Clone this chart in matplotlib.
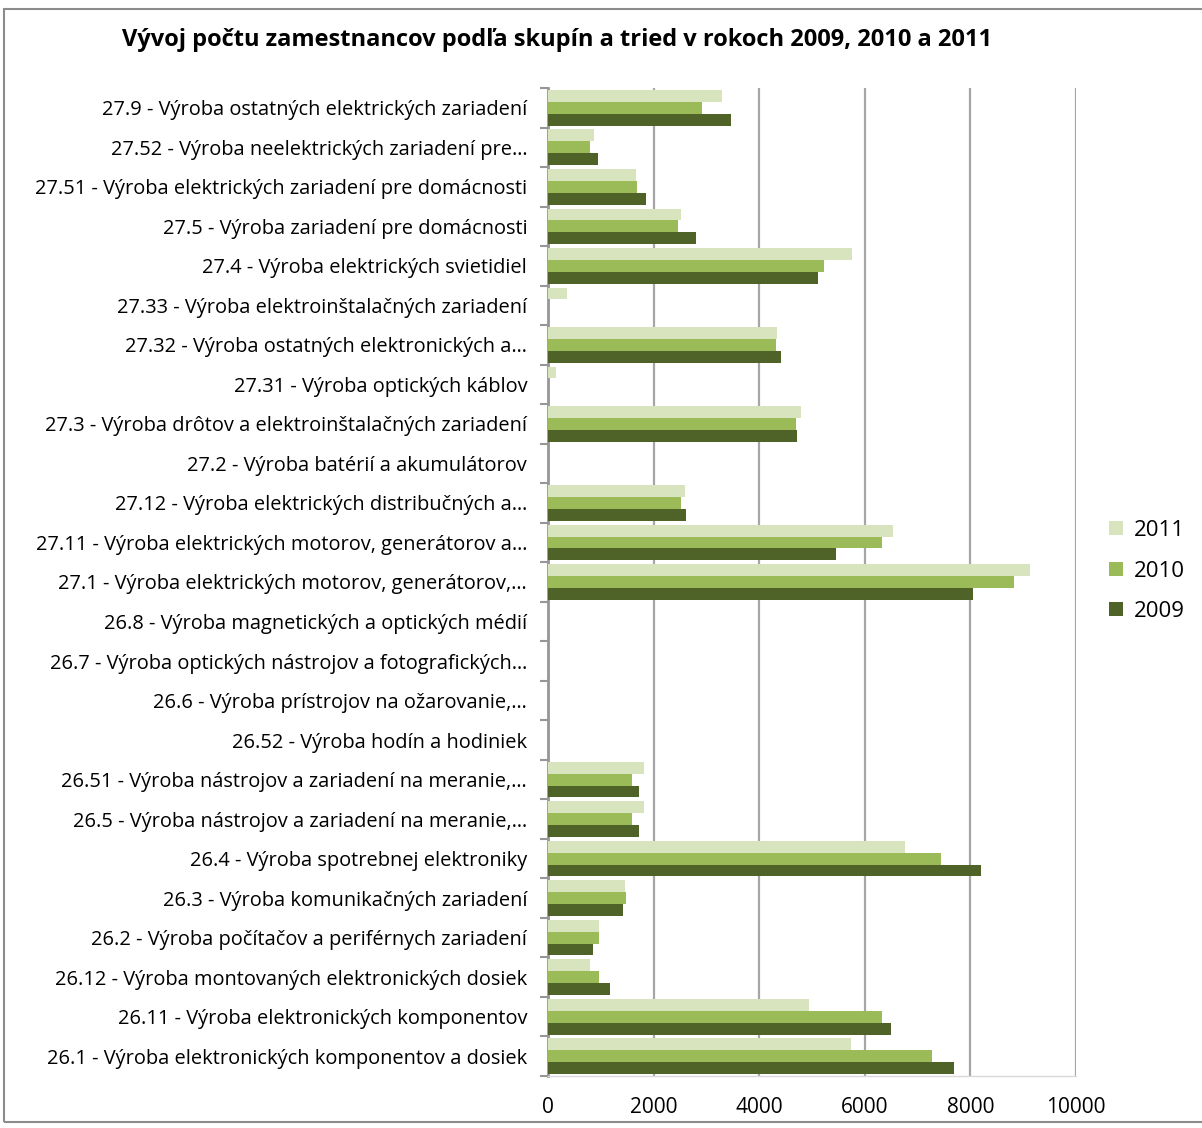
import matplotlib.pyplot as plt
import matplotlib.patches as mpatches
import numpy as np

plt.rcParams['font.family'] = ['Open Sans', 'DejaVu Sans']

# categories from top to bottom, as shown in the chart
categories = [
    "27.9 - Výroba ostatných elektrických zariadení",
    "27.52 - Výroba neelektrických zariadení pre…",
    "27.51 - Výroba elektrických zariadení pre domácnosti",
    "27.5 - Výroba zariadení pre domácnosti",
    "27.4 - Výroba elektrických svietidiel",
    "27.33 - Výroba elektroinštalačných zariadení",
    "27.32 - Výroba ostatných elektronických a…",
    "27.31 - Výroba optických káblov",
    "27.3 - Výroba drôtov a elektroinštalačných zariadení",
    "27.2 - Výroba batérií a akumulátorov",
    "27.12 - Výroba elektrických distribučných a…",
    "27.11 - Výroba elektrických motorov, generátorov a…",
    "27.1 - Výroba elektrických motorov, generátorov,…",
    "26.8 - Výroba magnetických a optických médií",
    "26.7 - Výroba optických nástrojov a fotografických…",
    "26.6 - Výroba prístrojov na ožarovanie,…",
    "26.52 - Výroba hodín a hodiniek",
    "26.51 - Výroba nástrojov a zariadení na meranie,…",
    "26.5 - Výroba nástrojov a zariadení na meranie,…",
    "26.4 - Výroba spotrebnej elektroniky",
    "26.3 - Výroba komunikačných zariadení",
    "26.2 - Výroba počítačov a periférnych zariadení",
    "26.12 - Výroba montovaných elektronických dosiek",
    "26.11 - Výroba elektronických komponentov",
    "26.1 - Výroba elektronických komponentov a dosiek",
]

y2011 = [3290, 880, 1660, 2520, 5750, 360, 4330, 145, 4800, 0, 2590, 6540, 9130,
         0, 0, 0, 0, 1825, 1825, 6770, 1465, 965, 795, 4950, 5730]
y2010 = [2920, 800, 1680, 2470, 5220, 0, 4320, 0, 4690, 0, 2520, 6320, 8820,
         0, 0, 0, 0, 1585, 1585, 7450, 1470, 965, 965, 6320, 7265]
y2009 = [3470, 950, 1860, 2810, 5110, 0, 4410, 0, 4710, 0, 2610, 5460, 8050,
         0, 0, 0, 0, 1730, 1730, 8200, 1420, 860, 1170, 6500, 7680]

series = [("2011", y2011, "#D7E4BD"), ("2010", y2010, "#9BBB59"), ("2009", y2009, "#4F6228")]

fig = plt.figure(figsize=(12.02, 11.28), dpi=100)
ax = fig.add_axes([548 / 1202, 1 - 1076 / 1128, 528 / 1202, (1076 - 88) / 1128])

n = len(categories)
pos = np.arange(n)[::-1]  # first category at top
h = 0.3
offsets = [h, 0, -h]
handles = []
for (name, vals, col), off in zip(series, offsets):
    b = ax.barh(pos + off, vals, height=h, color=col, linewidth=0,
                label=name, zorder=3)
    handles.append(b)

ax.set_xlim(0, 10000)
ax.set_ylim(-0.5, n - 0.5)
ax.set_xticks(np.arange(0, 10001, 2000))
ax.set_xticklabels([str(v) for v in range(0, 10001, 2000)], fontsize=15)
ax.xaxis.grid(True, color="#A6A6A6", linewidth=1.6, zorder=0)
ax.tick_params(axis="x", length=0, pad=15)

# category labels at centres, tick marks at boundaries
ax.set_yticks(pos)
ax.set_yticklabels(categories, fontsize=14.4)
ax.tick_params(axis="y", length=0, pad=15)
ax.set_yticks(np.arange(-0.5, n, 1), minor=True)
ax.tick_params(axis="y", which="minor", length=6, width=1.5, color="#969696")

for s in ["top", "right"]:
    ax.spines[s].set_visible(False)
ax.spines["left"].set_color("#969696")
ax.spines["left"].set_linewidth(2)
ax.spines["bottom"].set_color("#D9D9D9")
ax.spines["bottom"].set_linewidth(1)

fig.text(557 / 1202, 1 - 40 / 1128, "Vývoj počtu zamestnancov podľa skupín a tried v rokoch 2009, 2010 a 2011",
         ha="center", va="center", fontsize=17, fontweight="bold")

ax.legend(handles=handles, loc="center left", bbox_to_anchor=(1.025, 0.511), frameon=False,
          fontsize=16, handlelength=0.6, handleheight=0.6, labelspacing=0.88, handletextpad=0.5)

# outer chart border
fig.patches.append(mpatches.Rectangle((4 / 1202, 0.005), 1.0, 1 - 15 / 1128, transform=fig.transFigure,
                                      fill=False, edgecolor="#8C8C8C", linewidth=1.5))

fig.savefig("out.png", dpi=100)
